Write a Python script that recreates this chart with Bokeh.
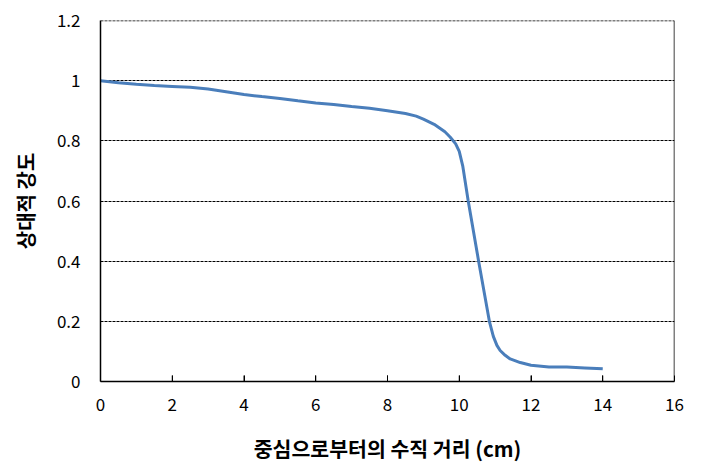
import math
from bokeh.plotting import figure
from bokeh.models import FixedTicker, Range1d, Span
from bokeh.embed import file_html
from bokeh.resources import INLINE

# Data
distance_cm = [0, 0.5, 1, 1.5, 2, 2.5, 3, 3.5, 4, 4.5, 5, 5.5, 6, 6.5, 7, 7.5, 8,
               8.5, 8.8, 9, 9.3, 9.6, 9.75, 9.9, 10.0, 10.1, 10.25, 10.54, 10.84,
               10.95, 11.05, 11.14, 11.28, 11.42, 11.7, 12, 12.5, 13, 13.5, 14]
relative_intensity = [1.0, 0.993, 0.988, 0.984, 0.981, 0.978, 0.972, 0.963, 0.954,
                      0.947, 0.941, 0.933, 0.926, 0.921, 0.914, 0.908, 0.900, 0.891,
                      0.882, 0.872, 0.855, 0.830, 0.812, 0.790, 0.765, 0.715, 0.600,
                      0.400, 0.200, 0.150, 0.120, 0.103, 0.087, 0.075, 0.063, 0.054,
                      0.048, 0.048, 0.045, 0.042]

x_ticks = [0, 2, 4, 6, 8, 10, 12, 14, 16]
y_ticks = [0, 0.2, 0.4, 0.6, 0.8, 1, 1.2]
y_tick_labels = ["0", "0.2", "0.4", "0.6", "0.8", "1", "1.2"]
x_title = "중심으로부터의 수직 거리 (cm)"
y_title = "상대적 강도"

FONT = "Noto Sans CJK KR"

p = figure(width=701, height=475, output_backend="svg", toolbar_location=None,
           x_range=Range1d(0, 16), y_range=Range1d(0, 1.2),
           min_border_left=100, min_border_right=27, min_border_top=20,
           min_border_bottom=94)
p.outline_line_color = None
p.background_fill_color = "white"
p.border_fill_color = "white"

p.line(distance_cm, relative_intensity, line_color="#4A7EBB", line_width=3)

# inward tick marks on the x axis (lower half clipped by the frame)
p.scatter(x_ticks[1:-1], [0] * (len(x_ticks) - 2), marker="dash", size=12,
          angle=math.pi / 2, line_color="black", line_width=1)

# x axis
xa = p.xaxis[0]
xa.ticker = FixedTicker(ticks=x_ticks)
xa.major_tick_in = 6
xa.major_tick_out = 0
xa.minor_tick_in = 0
xa.minor_tick_out = 0
xa.axis_line_color = "black"
xa.axis_line_width = 1.5
xa.major_tick_line_color = "black"
xa.major_label_text_font = FONT
xa.major_label_text_font_size = "17px"
xa.major_label_text_color = "black"
xa.major_label_standoff = 16
xa.axis_label = x_title
xa.axis_label_text_font = FONT
xa.axis_label_text_font_style = "bold"
xa.axis_label_text_font_size = "20.5px"
xa.axis_label_text_color = "black"
xa.axis_label_standoff = 19

# y axis
ya = p.yaxis[0]
ya.ticker = FixedTicker(ticks=y_ticks)
ya.major_label_overrides = {t: l for t, l in zip(y_ticks, y_tick_labels)}
ya.major_tick_in = 0
ya.major_tick_out = 0
ya.minor_tick_in = 0
ya.minor_tick_out = 0
ya.axis_line_color = "black"
ya.axis_line_width = 1.5
ya.major_label_text_font = FONT
ya.major_label_text_font_size = "17px"
ya.major_label_text_color = "black"
ya.major_label_standoff = 20
ya.axis_label = y_title
ya.axis_label_text_font = FONT
ya.axis_label_text_font_style = "bold"
ya.axis_label_text_font_size = "20px"
ya.axis_label_text_color = "black"
ya.axis_label_standoff = 14

p.xgrid.grid_line_color = None
p.ygrid.ticker = FixedTicker(ticks=y_ticks)
p.ygrid.grid_line_color = "black"
p.ygrid.grid_line_dash = "3 1"
p.ygrid.grid_line_width = 1

# frame: dashed top at the 1.2 line, solid right border
p.add_layout(Span(location=1.2, dimension="width", line_color="black",
                  line_width=1.5, line_dash="3 1"))
p.add_layout(Span(location=16, dimension="height", line_color="black",
                  line_width=1.5))

open("out.html", "w").write(file_html(p, INLINE))
